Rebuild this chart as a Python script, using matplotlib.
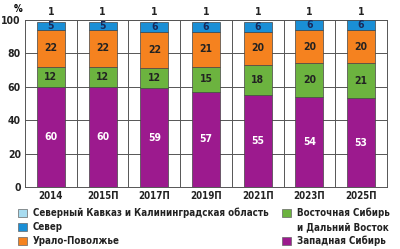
import matplotlib.pyplot as plt
import matplotlib.patches as mpatches
import numpy as np

years = ['2014', '2015П', '2017П', '2019П', '2021П', '2023П', '2025П']
zap_sib = [60, 60, 59, 57, 55, 54, 53]
vost_sib = [12, 12, 12, 15, 18, 20, 21]
ural = [22, 22, 22, 21, 20, 20, 20]
sever = [5, 5, 6, 6, 6, 6, 6]
kavkaz = [1, 1, 1, 1, 1, 1, 1]

c_zap = '#9c1a8e'
c_vost = '#6cb33f'
c_ural = '#f5821f'
c_sev = '#1a8fd6'
c_kav = '#a8dcf0'

plt.rcParams['font.family'] = ['DejaVu Sans']
fnt = dict(fontweight='bold', fontstretch='condensed')

fig = plt.figure(figsize=(4, 2.49), dpi=100)
ax = fig.add_axes([0.0625, 0.249, 0.905, 0.671])

x = np.arange(len(years))
w = 0.54
series = [(zap_sib, c_zap, 'white'), (vost_sib, c_vost, '#222222'),
          (ural, c_ural, '#222222'), (sever, c_sev, '#1a2a5a')]
bottom = np.zeros(len(years))
for vals, col, tcol in series:
    vals = np.array(vals)
    # last segment fills up to the top of the axis like in the original
    ax.bar(x, vals, w, bottom=bottom, color=col, edgecolor='#444444', linewidth=0.5, zorder=3)
    for i in range(len(years)):
        ax.text(x[i], bottom[i] + vals[i] / 2, str(vals[i]), ha='center', va='center',
                color=tcol, fontsize=7.5, zorder=4, **fnt)
    bottom = bottom + vals
# the 1% share is too thin to see, only its label sits above each bar
for i in range(len(years)):
    ax.text(x[i], 102, str(kavkaz[i]), ha='center', va='bottom', fontsize=7.5,
            color='#222222', clip_on=False, **fnt)

ax.set_xlim(-0.5, 6.5)
ax.set_ylim(0, 100)
ax.set_yticks([0, 20, 40, 60, 80, 100])
ax.set_yticklabels(['0', '20', '40', '60', '80', '100'], fontsize=7.5, **fnt)
ax.set_xticks(x)
ax.set_xticklabels(years, fontsize=7, **fnt)
ax.tick_params(axis='both', length=0, pad=3, colors='#222222')
for xb in np.arange(0.5, 6.5, 1):
    ax.axvline(xb, color='#555555', linewidth=0.7, zorder=1)
ax.yaxis.grid(True, color='#555555', linewidth=0.7, zorder=1)
ax.set_axisbelow(True)
for s in ax.spines.values():
    s.set_color('#555555')
    s.set_linewidth(0.7)
fig.text(0.035, 0.985, '%', fontsize=7, ha='left', va='top', **fnt)

def leg(xp, yp, col, label):
    fig.patches.append(mpatches.Rectangle((xp, yp - 0.018), 0.022, 0.036, transform=fig.transFigure,
                                          facecolor=col, edgecolor='#666666', linewidth=0.5))
    fig.text(xp + 0.037, yp, label, fontsize=7, va='center', ha='left', color='#222222', **fnt)

leg(0.045, 1 - 213 / 249, c_kav, 'Северный Кавказ и Калининградская область')
leg(0.045, 1 - 227 / 249, c_sev, 'Север')
leg(0.045, 1 - 241 / 249, c_ural, 'Урало-Поволжье')
leg(0.705, 1 - 213 / 249, c_vost, 'Восточная Сибирь')
fig.text(0.705 + 0.037, 1 - 227 / 249, 'и Дальний Восток', fontsize=7, va='center', ha='left',
         color='#222222', **fnt)
leg(0.705, 1 - 241 / 249, c_zap, 'Западная Сибирь')

plt.savefig('out.png', dpi=100)
